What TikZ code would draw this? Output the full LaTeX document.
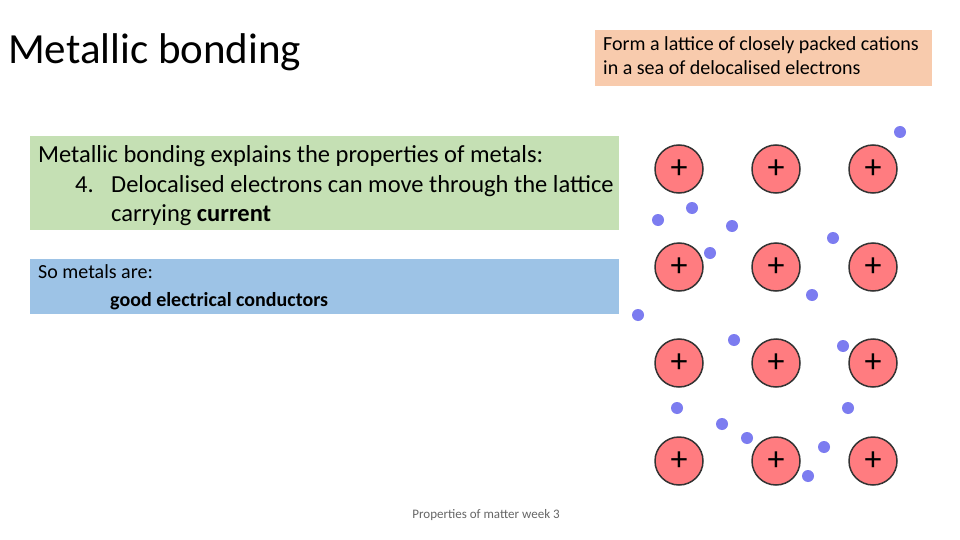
\documentclass[tikz,border=0pt]{standalone}
\usepackage{fontspec}
\setmainfont{Carlito}
\begin{document}
\begin{tikzpicture}[x=1pt,y=-1pt,
  cation/.style={circle,draw=black!80,line width=1.5pt,fill=cationred,minimum size=48pt,inner sep=0pt,font=\fontsize{34}{34}\selectfont},
  electron/.style={circle,fill=elecblue,minimum size=12pt,inner sep=0pt},
  gl/.style={anchor=base west,inner sep=0pt,font=\fontsize{24.5}{29}\selectfont},
  txt/.style={anchor=north west,inner sep=0pt,align=left}]
\definecolor{cationred}{HTML}{FF7C80}
\definecolor{elecblue}{HTML}{7C7CF0}
\definecolor{orangebox}{HTML}{F8CBAD}
\definecolor{greenbox}{HTML}{C5E0B4}
\definecolor{bluebox}{HTML}{9DC3E6}
\useasboundingbox[fill=white] (0,0) rectangle (960,540);
\node[anchor=west,inner sep=0pt,font=\fontsize{43}{43}\selectfont] (title) at (8,52) {Metallic bonding};
\node[fill=orangebox,minimum width=337pt,minimum height=56pt,anchor=north west] (ob) at (595,30) {};
\node[txt,font=\fontsize{20}{24}\selectfont] (ot) at (603,36) {Form a lattice of closely packed cations\\in a sea of delocalised electrons};
\node[fill=greenbox,minimum width=589pt,minimum height=94pt,anchor=north west] (gb) at (30,136) {};
\node[gl] (g1) at (38,163) {Metallic bonding explains the properties of metals:};
\node[gl] (g2a) at (75,192) {4.};
\node[gl] (g2b) at (111,192) {Delocalised electrons can move through the lattice};
\node[gl] (g3) at (111,221) {carrying \textbf{current}};
\node[fill=bluebox,minimum width=589pt,minimum height=55pt,anchor=north west] (bb) at (30,259) {};
\node[txt,font=\fontsize{20}{28}\selectfont] (bt) at (38,264) {So metals are:\\\hspace*{72pt}\textbf{good electrical conductors}};
\node[font=\fontsize{13}{13}\selectfont,text=black!60] (foot) at (486,515) {Properties of matter week 3};
\foreach \x [count=\i] in {679,776,873}
  \foreach \y [count=\j] in {169,267,363,461}
    \node[cation] (c\i\j) at (\x,\y) {+};
\foreach \p [count=\k] in {(900,132),(658,220),(692,208),(732,226),(833,238),(710,253),(812,295),(638,315),(734,340),(843,346),(677,408),(722,424),(747,438),(848,408),(824,447),(808,476)}
  \node[electron] (e\k) at \p {};
\end{tikzpicture}
\end{document}
